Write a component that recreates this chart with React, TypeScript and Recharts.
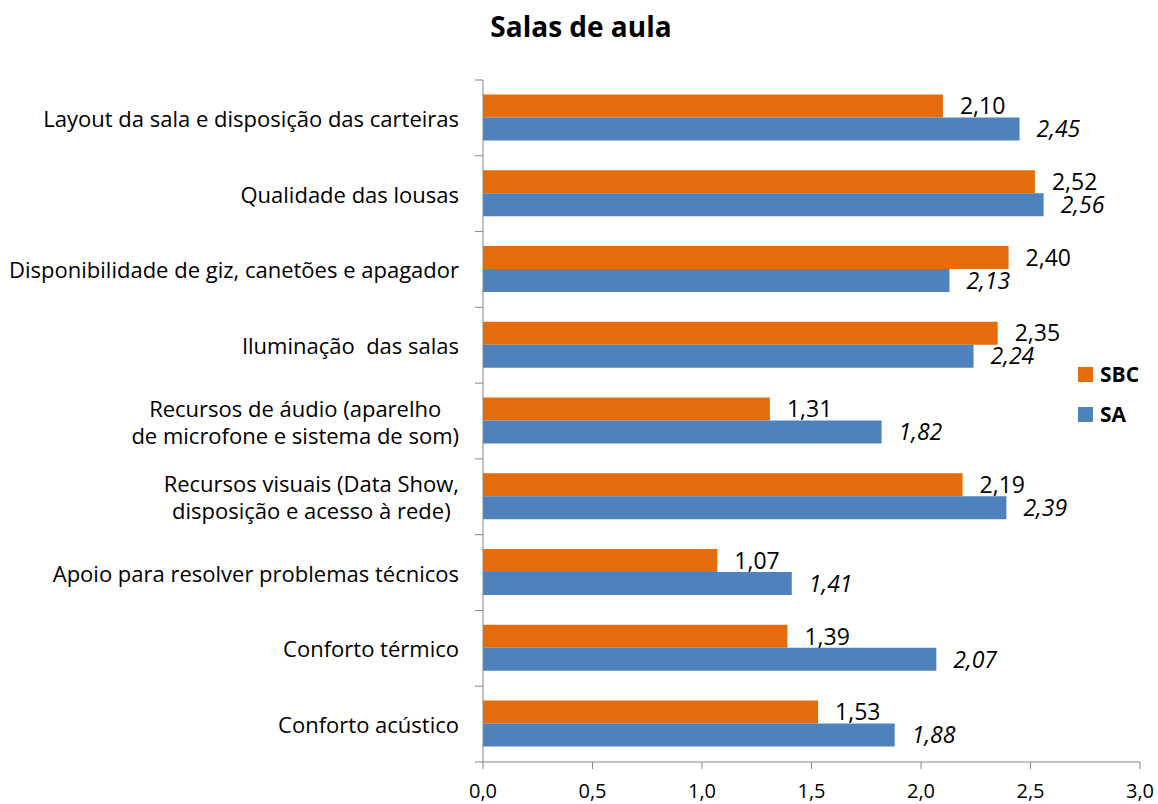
import React from 'react';
import { BarChart, Bar, XAxis, YAxis, LabelList } from 'recharts';

const categories = [
  'Layout da sala e disposição das carteiras',
  'Qualidade das lousas',
  'Disponibilidade de giz, canetões e apagador',
  'Iluminação  das salas',
  'Recursos de áudio (aparelho\nde microfone e sistema de som)',
  'Recursos visuais (Data Show,\ndisposição e acesso à rede)',
  'Apoio para resolver problemas técnicos',
  'Conforto térmico',
  'Conforto acústico',
];

const sbcValues = [2.10, 2.52, 2.40, 2.35, 1.31, 2.19, 1.07, 1.39, 1.53];
const saValues = [2.45, 2.56, 2.13, 2.24, 1.82, 2.39, 1.41, 2.07, 1.88];

const xTicks = [0, 0.5, 1, 1.5, 2, 2.5, 3];

const seriesNames = ['SBC', 'SA'];
const seriesColors = ['#E46C0A', '#4F81BD'];

const FONT = '"Open Sans", sans-serif';
const AXIS_COLOR = '#868686';
const WIDTH = 1158;
const HEIGHT = 804;
const TOP = 80;
const BOTTOM = 42;
const BAND = (HEIGHT - TOP - BOTTOM) / categories.length;
const CAT_SIZE = 22;

const data = categories.map((name, i) => ({
  name,
  sbc: sbcValues[i],
  sa: saValues[i],
}));

const fmt = (v: number, d: number) => v.toFixed(d).replace('.', ',');

let ctx: CanvasRenderingContext2D | null = null;
const measure = (text: string, font: string) => {
  if (!ctx) ctx = document.createElement('canvas').getContext('2d');
  if (!ctx) return text.length * 10;
  ctx.font = font;
  return ctx.measureText(text).width;
};

// category label, centred as a block, plus the boundary tick marks
const CategoryTick = (props: any) => {
  const { x, y, payload, index } = props;
  const lines = String(payload.value).split('\n');
  const maxW = Math.max(...lines.map(l => measure(l, `${CAT_SIZE}px "Open Sans"`)));
  const cx = x - maxW / 2;
  const axisX = x + 24;
  const lineH = 27;
  return (
    <g>
      <line x1={axisX - 8} x2={axisX} y1={y - BAND / 2} y2={y - BAND / 2} stroke={AXIS_COLOR} />
      {index === categories.length - 1 && (
        <line x1={axisX - 8} x2={axisX} y1={y + BAND / 2} y2={y + BAND / 2} stroke={AXIS_COLOR} />
      )}
      <text
        x={cx}
        y={y}
        textAnchor="middle"
        dominantBaseline="central"
        fontSize={CAT_SIZE}
        fontFamily={FONT}
        fill="#000"
        style={{ whiteSpace: 'pre' }}
      >
        {lines.map((l, i) => (
          <tspan key={i} x={cx} y={y + (i - (lines.length - 1) / 2) * lineH}>
            {l}
          </tspan>
        ))}
      </text>
    </g>
  );
};

const App = () => {
  return (
    <div style={{ position: 'absolute', left: 0, top: 0, width: WIDTH, height: HEIGHT, background: '#fff' }}>
      <div
        style={{
          position: 'absolute',
          left: 0,
          top: 7,
          width: WIDTH + 4,
          textAlign: 'center',
          fontFamily: FONT,
          fontWeight: 700,
          fontSize: 28,
          lineHeight: 'normal',
          color: '#000',
        }}
      >
        Salas de aula
      </div>
      <BarChart
        width={WIDTH}
        height={HEIGHT}
        data={data}
        layout="vertical"
        margin={{ top: TOP, right: 18, bottom: 0, left: 0 }}
        barCategoryGap="19%"
        barGap={0}
      >
        <XAxis
          type="number"
          domain={[0, 3]}
          ticks={xTicks}
          height={BOTTOM}
          tickFormatter={(v: number) => fmt(v, 1)}
          axisLine={{ stroke: AXIS_COLOR }}
          tickLine={{ stroke: AXIS_COLOR }}
          tickSize={7}
          tickMargin={15}
          tick={{ fill: '#000', fontSize: 20, fontFamily: FONT }}
        />
        <YAxis
          type="category"
          dataKey="name"
          width={483}
          interval={0}
          tickSize={0}
          tickMargin={24}
          tickLine={false}
          axisLine={{ stroke: AXIS_COLOR }}
          tick={<CategoryTick />}
        />
        <Bar dataKey="sbc" name={seriesNames[0]} fill={seriesColors[0]} isAnimationActive={false}>
          <LabelList
            dataKey="sbc"
            position="right"
            offset={17}
            formatter={(v: any) => fmt(Number(v), 2)}
            style={{ fill: '#000', fontSize: 23, fontFamily: FONT }}
          />
        </Bar>
        <Bar dataKey="sa" name={seriesNames[1]} fill={seriesColors[1]} isAnimationActive={false}>
          <LabelList
            dataKey="sa"
            position="right"
            offset={17}
            formatter={(v: any) => fmt(Number(v), 2)}
            style={{ fill: '#000', fontSize: 23, fontFamily: FONT, fontStyle: 'italic' }}
          />
        </Bar>
      </BarChart>
      <div style={{ position: 'absolute', left: 1078, top: 354, fontFamily: FONT }}>
        {seriesNames.map((n, i) => (
          <div key={n} style={{ display: 'flex', alignItems: 'center', height: 40 }}>
            <div style={{ width: 15, height: 15, background: seriesColors[i], marginRight: 7 }} />
            <span style={{ fontWeight: 700, fontSize: 21, color: '#000' }}>{n}</span>
          </div>
        ))}
      </div>
    </div>
  );
};

export default App;
